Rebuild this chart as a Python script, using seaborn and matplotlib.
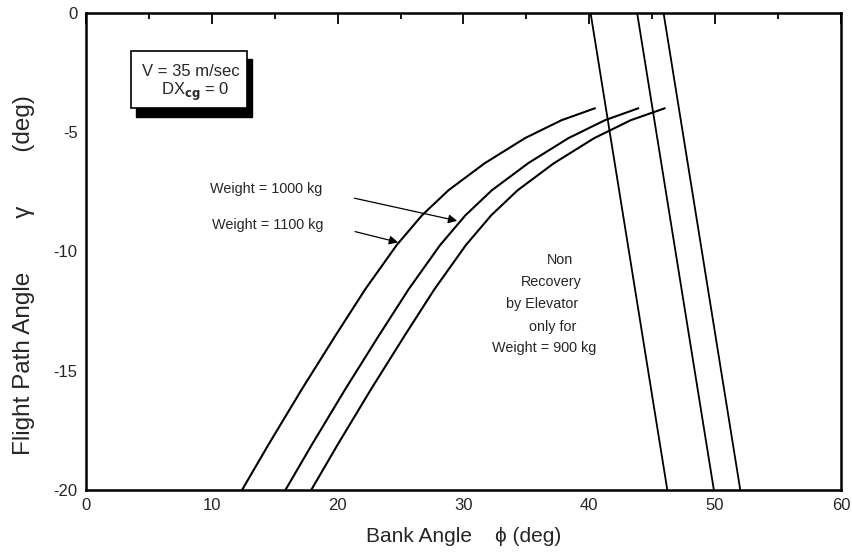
import numpy as np
import pandas as pd
import matplotlib.pyplot as plt
import seaborn as sns
from matplotlib.ticker import MultipleLocator
from matplotlib.patches import Rectangle

# Curves (bank angle deg, flight path angle deg)
bank_1100 = [12.4, 14.5, 17.15, 19.8, 22.2, 24.7, 26.7, 28.8, 31.7, 34.9, 37.8, 40.45]
gamma_1100 = [-20.0, -18.1, -15.78, -13.55, -11.58, -9.73, -8.49, -7.44, -6.3, -5.25, -4.5, -4.0]

bank_1000 = [15.85, 17.95, 20.6, 23.25, 25.65, 28.15, 30.15, 32.25, 35.15, 38.35, 41.25, 43.9]
gamma_1000 = [-20.0, -18.1, -15.78, -13.55, -11.58, -9.73, -8.49, -7.44, -6.3, -5.25, -4.5, -4.0]

bank_900 = [17.9, 20.0, 22.65, 25.3, 27.7, 30.2, 32.2, 34.3, 37.2, 40.4, 43.3, 46.0]
gamma_900 = [-20.0, -18.1, -15.78, -13.55, -11.58, -9.73, -8.49, -7.44, -6.3, -5.25, -4.5, -4.0]

# Non-recovery boundary lines
bound_top = [40.1, 43.8, 45.9]
bound_bottom = [46.2, 49.9, 52.0]
bound_gamma = [0.0, -20.0]

sns.set_theme(style="white")
plt.rcParams["font.family"] = ["Liberation Sans", "DejaVu Sans"]
plt.rcParams["axes.unicode_minus"] = False

fig = plt.figure(figsize=(8.52, 5.58), dpi=100)
ax = fig.add_axes([0.101, 0.122, 0.886, 0.855])

curves = pd.concat([
    pd.DataFrame({"bank": bank_1100, "gamma": gamma_1100, "w": "1100"}),
    pd.DataFrame({"bank": bank_1000, "gamma": gamma_1000, "w": "1000"}),
    pd.DataFrame({"bank": bank_900, "gamma": gamma_900, "w": "900"}),
])
for w, g in curves.groupby("w"):
    sns.lineplot(data=g, x="bank", y="gamma", sort=False, color="black",
                 linewidth=1.5, ax=ax, legend=False)

for t, b in zip(bound_top, bound_bottom):
    sns.lineplot(x=[t, b], y=bound_gamma, sort=False, color="black",
                 linewidth=1.3, ax=ax, legend=False)

ax.set_xlim(0, 60)
ax.set_ylim(-20, 0)
ax.xaxis.set_major_locator(MultipleLocator(10))
ax.xaxis.set_minor_locator(MultipleLocator(5))
ax.yaxis.set_major_locator(MultipleLocator(5))
ax.yaxis.set_minor_locator(MultipleLocator(2.5))
ax.tick_params(which="both", direction="in", top=True, right=False,
               color="black", labelsize=12, width=1.3)
ax.tick_params(which="major", length=8, pad=6)
ax.tick_params(which="minor", length=4)
for s in ax.spines.values():
    s.set_color("black")
    s.set_linewidth(1.8)

ax.set_xlabel("Bank Angle    \u03d5 (deg)", fontsize=15, labelpad=10)
ax.set_ylabel("Flight Path Angle" + " " * 8 + "\u03b3" + " " * 8 + "(deg)", fontsize=17.5)
ax.yaxis.set_label_coords(-0.068, 0.45)

# Info box with drop shadow
ax.add_patch(Rectangle((4.0, -4.35), 9.2, 2.4, transform=ax.transData,
                       facecolor="black", edgecolor="black", zorder=3, clip_on=False))
ax.add_patch(Rectangle((3.6, -4.0), 9.2, 2.4, transform=ax.transData,
                       facecolor="white", edgecolor="black", linewidth=1.2, zorder=4))
ax.text(8.35, -2.46, "V = 35 m/sec", ha="center", va="center", fontsize=12, zorder=5)
ax.text(8.7, -3.3, "DX$_{\\mathbf{cg}}$ = 0", ha="center", va="center", fontsize=12, zorder=5)

# Weight annotations
arrow = dict(arrowstyle="-|>", color="black", lw=0.9, shrinkA=0, shrinkB=0,
             mutation_scale=13)
ax.text(14.3, -7.39, "Weight = 1000 kg", ha="center", va="center", fontsize=10.4)
ax.text(14.4, -8.89, "Weight = 1100 kg", ha="center", va="center", fontsize=10.4)
ax.annotate("", xy=(29.5, -8.72), xytext=(21.33, -7.77), arrowprops=arrow)
ax.annotate("", xy=(24.8, -9.62), xytext=(21.38, -9.17), arrowprops=arrow)

# Non-recovery region note
note_lines = ["Non", "Recovery", "by Elevator", "only for", "Weight = 900 kg"]
note_x = [37.68, 36.96, 36.25, 37.12, 36.41]
note_y = [-10.36, -11.28, -12.2, -13.17, -14.05]
for s, xx, yy in zip(note_lines, note_x, note_y):
    ax.text(xx, yy, s, ha="center", va="center", fontsize=10.4)

plt.savefig("out.png", dpi=100)
